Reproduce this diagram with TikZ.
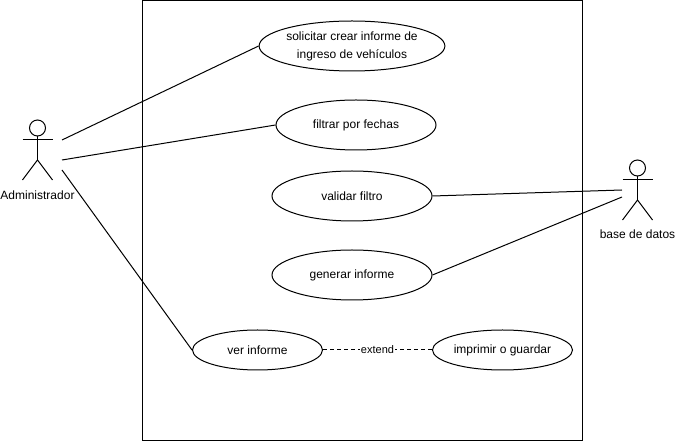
\documentclass[tikz,border=0pt]{standalone}
\usepackage{fontspec}
\setmainfont{Liberation Sans}
\usetikzlibrary{shapes.geometric}
\tikzset{
    usecase/.style={draw,ellipse,inner sep=0pt,minimum width=160*0.75pt,minimum height=50*0.75pt,align=center,font=\fontsize{9}{13.5}\selectfont},
    actorname/.style={font=\fontsize{9}{11}\selectfont,inner sep=0pt},
    extendname/.style={fill=white,font=\fontsize{8.25}{10}\selectfont,inner sep=0.5pt}
}
\begin{document}
\begin{tikzpicture}[x=0.75pt,y=-0.75pt,line width=0.75pt]
    \useasboundingbox (0,0) rectangle (675,441);
    \fill[white] (0,0) rectangle (675,441);
    \node[draw,minimum width=440*0.75pt,minimum height=440*0.75pt,inner sep=0pt] (sistema) at (362.5,220.5) {};
    % casos de uso
    \node[usecase] (solicitar) at (352,46) {solicitar crear informe de\\ingreso de vehículos};
    \node[usecase] (filtrar) at (356,125) {filtrar por fechas};
    \node[usecase] (validar) at (352,196) {validar filtro};
    \node[usecase] (generar) at (352,275) {generar informe};
    \node[usecase,minimum width=130*0.75pt,minimum height=40*0.75pt] (ver) at (257.5,350) {ver informe};
    \node[usecase,minimum width=140*0.75pt,minimum height=40*0.75pt] (imprimir) at (502.5,350) {imprimir o guardar};
    % actor izquierdo
    \draw (37.5,128) circle(8);
    \draw (37.5,136)--(37.5,160);
    \draw (22.5,140)--(52.5,140);
    \draw (22.5,180)--(37.5,160)--(52.5,180);
    \node[actorname] (administrador) at (37.5,195) {Administrador};
    % actor derecho
    \draw (637.5,168) circle(8);
    \draw (637.5,176)--(637.5,200);
    \draw (622.5,180)--(652.5,180);
    \draw (622.5,220)--(637.5,200)--(652.5,220);
    \node[actorname] (basedatos) at (637.5,234) {base de datos};
    % extremos libres
    \coordinate (admina) at (62,140);
    \coordinate (adminb) at (62,160);
    \coordinate (adminc) at (62,170);
    \coordinate (basea) at (622,190);
    \coordinate (baseb) at (622,197);
    \draw (admina)--(solicitar.west);
    \draw (adminb)--(filtrar.west);
    \draw (adminc)--(ver.west);
    \draw (validar.east)--(basea);
    \draw (generar.east)--(baseb);
    \draw [dashed,dash pattern=on 3pt off 2.25pt] (ver.east)--node[extendname] (extiende) {extend} (imprimir.west);
\end{tikzpicture}
\end{document}
